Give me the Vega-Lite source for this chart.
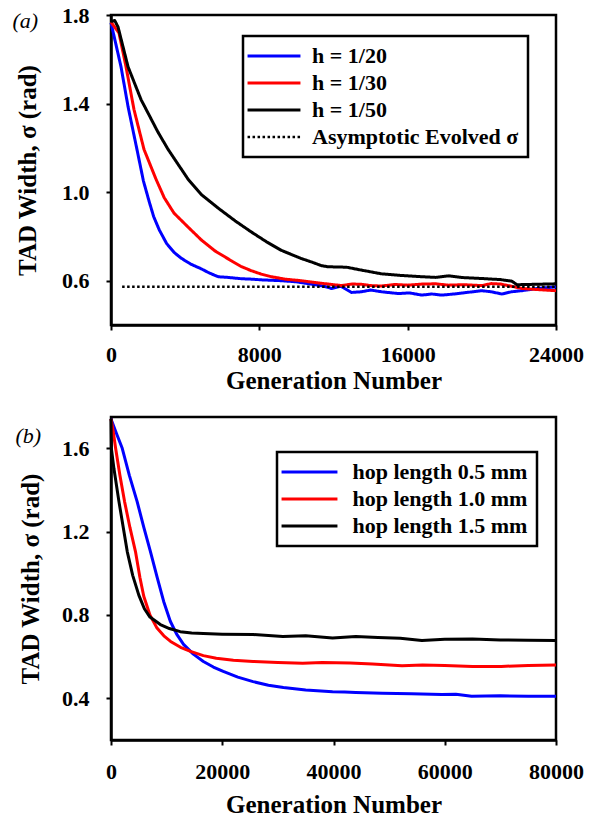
{
  "$schema": "https://vega.github.io/schema/vega-lite/v6.json",
  "background": "white",
  "padding": {"left": 11, "top": 2, "right": 12, "bottom": 4},
  "spacing": 20,
  "config": {
    "font": "Liberation Serif",
    "view": {"stroke": "black", "strokeWidth": 2.5},
    "axis": {
      "grid": false, "domainColor": "black", "domainWidth": 2.5,
      "tickColor": "black", "tickWidth": 2, "tickSize": 5,
      "labelFont": "Liberation Serif", "labelFontWeight": "bold", "labelFontSize": 22, "labelColor": "black",
      "titleFont": "Liberation Serif", "titleFontWeight": "bold", "titleFontSize": 25, "titleColor": "black",
      "labelFlush": false, "labelOverlap": false
    },
    "legend": {
      "strokeColor": "black", "strokeWidth": 2.5, "padding": 9,
      "labelFont": "Liberation Serif", "labelFontWeight": "bold", "labelFontSize": 22, "labelColor": "black",
      "labelLimit": 500, "rowPadding": 5, "symbolStrokeWidth": 3,
      "symbolType": "M-5,0H5", "title": null, "orient": "none", "fillColor": "white"
    },
    "title": {"font": "Liberation Serif", "fontStyle": "italic", "fontWeight": "normal", "fontSize": 22, "color": "black"}
  },
  "resolve": {
    "scale": {"color": "independent", "strokeDash": "independent", "strokeWidth": "independent", "x": "independent", "y": "independent"},
    "legend": {"color": "independent", "strokeDash": "independent", "strokeWidth": "independent"}
  },
  "vconcat": [
    {
      "width": 445, "height": 310,
      "title": {"text": "(a)", "anchor": "start", "frame": "bounds", "offset": 0, "dy": 29, "dx": -3},
      "data": {"values": [
        {"s":"h = 1/20","g":0,"w":1.765},{"s":"h = 1/20","g":540,"w":1.566},{"s":"h = 1/20","g":920,"w":1.386},{"s":"h = 1/20","g":1400,"w":1.193},{"s":"h = 1/20","g":1750,"w":1.05},{"s":"h = 1/20","g":2050,"w":0.96},{"s":"h = 1/20","g":2300,"w":0.89},{"s":"h = 1/20","g":2600,"w":0.83},{"s":"h = 1/20","g":3000,"w":0.768},{"s":"h = 1/20","g":3400,"w":0.728},{"s":"h = 1/20","g":3780,"w":0.702},{"s":"h = 1/20","g":4300,"w":0.675},{"s":"h = 1/20","g":4860,"w":0.654},{"s":"h = 1/20","g":5300,"w":0.635},{"s":"h = 1/20","g":5780,"w":0.618},{"s":"h = 1/20","g":6300,"w":0.615},{"s":"h = 1/20","g":7030,"w":0.609},{"s":"h = 1/20","g":7600,"w":0.607},{"s":"h = 1/20","g":8100,"w":0.604},{"s":"h = 1/20","g":9190,"w":0.6},{"s":"h = 1/20","g":10000,"w":0.595},{"s":"h = 1/20","g":11000,"w":0.582},{"s":"h = 1/20","g":11500,"w":0.575},{"s":"h = 1/20","g":11890,"w":0.565},{"s":"h = 1/20","g":12400,"w":0.575},{"s":"h = 1/20","g":12970,"w":0.547},{"s":"h = 1/20","g":13500,"w":0.55},{"s":"h = 1/20","g":14000,"w":0.558},{"s":"h = 1/20","g":14590,"w":0.55},{"s":"h = 1/20","g":15500,"w":0.542},{"s":"h = 1/20","g":16100,"w":0.545},{"s":"h = 1/20","g":16760,"w":0.535},{"s":"h = 1/20","g":17300,"w":0.54},{"s":"h = 1/20","g":17840,"w":0.535},{"s":"h = 1/20","g":18500,"w":0.54},{"s":"h = 1/20","g":19000,"w":0.545},{"s":"h = 1/20","g":20000,"w":0.555},{"s":"h = 1/20","g":20500,"w":0.55},{"s":"h = 1/20","g":21080,"w":0.54},{"s":"h = 1/20","g":21600,"w":0.55},{"s":"h = 1/20","g":22160,"w":0.555},{"s":"h = 1/20","g":23000,"w":0.565},{"s":"h = 1/20","g":24000,"w":0.572},
        {"s":"h = 1/30","g":0,"w":1.768},{"s":"h = 1/30","g":430,"w":1.719},{"s":"h = 1/30","g":810,"w":1.566},{"s":"h = 1/30","g":1240,"w":1.373},{"s":"h = 1/30","g":1780,"w":1.193},{"s":"h = 1/30","g":2430,"w":1.058},{"s":"h = 1/30","g":2870,"w":0.975},{"s":"h = 1/30","g":3400,"w":0.905},{"s":"h = 1/30","g":4160,"w":0.842},{"s":"h = 1/30","g":4860,"w":0.785},{"s":"h = 1/30","g":5600,"w":0.735},{"s":"h = 1/30","g":6490,"w":0.69},{"s":"h = 1/30","g":7000,"w":0.665},{"s":"h = 1/30","g":7570,"w":0.645},{"s":"h = 1/30","g":8100,"w":0.63},{"s":"h = 1/30","g":8650,"w":0.618},{"s":"h = 1/30","g":9400,"w":0.607},{"s":"h = 1/30","g":10270,"w":0.6},{"s":"h = 1/30","g":11000,"w":0.592},{"s":"h = 1/30","g":11700,"w":0.585},{"s":"h = 1/30","g":12430,"w":0.578},{"s":"h = 1/30","g":13000,"w":0.585},{"s":"h = 1/30","g":13500,"w":0.584},{"s":"h = 1/30","g":14000,"w":0.578},{"s":"h = 1/30","g":14590,"w":0.576},{"s":"h = 1/30","g":15300,"w":0.583},{"s":"h = 1/30","g":16000,"w":0.58},{"s":"h = 1/30","g":16800,"w":0.585},{"s":"h = 1/30","g":17500,"w":0.586},{"s":"h = 1/30","g":18200,"w":0.58},{"s":"h = 1/30","g":19000,"w":0.582},{"s":"h = 1/30","g":20000,"w":0.578},{"s":"h = 1/30","g":20500,"w":0.587},{"s":"h = 1/30","g":21000,"w":0.585},{"s":"h = 1/30","g":21600,"w":0.575},{"s":"h = 1/30","g":22160,"w":0.565},{"s":"h = 1/30","g":23000,"w":0.56},{"s":"h = 1/30","g":24000,"w":0.555},
        {"s":"h = 1/50","g":0,"w":1.77},{"s":"h = 1/50","g":200,"w":1.775},{"s":"h = 1/50","g":380,"w":1.746},{"s":"h = 1/50","g":920,"w":1.566},{"s":"h = 1/50","g":1620,"w":1.418},{"s":"h = 1/50","g":2540,"w":1.27},{"s":"h = 1/50","g":3080,"w":1.193},{"s":"h = 1/50","g":4160,"w":1.058},{"s":"h = 1/50","g":4860,"w":0.99},{"s":"h = 1/50","g":5780,"w":0.928},{"s":"h = 1/50","g":6700,"w":0.87},{"s":"h = 1/50","g":7570,"w":0.82},{"s":"h = 1/50","g":8400,"w":0.775},{"s":"h = 1/50","g":9190,"w":0.737},{"s":"h = 1/50","g":10270,"w":0.7},{"s":"h = 1/50","g":10800,"w":0.685},{"s":"h = 1/50","g":11350,"w":0.668},{"s":"h = 1/50","g":11700,"w":0.663},{"s":"h = 1/50","g":12700,"w":0.661},{"s":"h = 1/50","g":13500,"w":0.648},{"s":"h = 1/50","g":14590,"w":0.631},{"s":"h = 1/50","g":15600,"w":0.624},{"s":"h = 1/50","g":16760,"w":0.618},{"s":"h = 1/50","g":17500,"w":0.615},{"s":"h = 1/50","g":18220,"w":0.622},{"s":"h = 1/50","g":19000,"w":0.614},{"s":"h = 1/50","g":20000,"w":0.61},{"s":"h = 1/50","g":21000,"w":0.605},{"s":"h = 1/50","g":21620,"w":0.598},{"s":"h = 1/50","g":21890,"w":0.582},{"s":"h = 1/50","g":23000,"w":0.584},{"s":"h = 1/50","g":24000,"w":0.586},
        {"s":"Asymptotic Evolved σ","g":600,"w":0.573},{"s":"Asymptotic Evolved σ","g":24000,"w":0.573}
      ]},
      "mark": {"type": "line", "strokeJoin": "round", "strokeCap": "butt"},
      "encoding": {
        "x": {"field": "g", "type": "quantitative", "scale": {"domain": [0, 24000], "nice": false},
              "axis": {"values": [0, 8000, 16000, 24000], "format": "d", "title": "Generation Number", "labelPadding": 14, "titlePadding": 3}},
        "y": {"field": "w", "type": "quantitative", "scale": {"domain": [0.4, 1.8], "nice": false, "zero": false},
              "axis": {"values": [0.6, 1.0, 1.4, 1.8], "format": ".1f", "title": "TAD Width, σ (rad)", "labelPadding": 17, "titlePadding": 21}},
        "color": {"field": "s", "type": "nominal",
                  "scale": {"domain": ["h = 1/20", "h = 1/30", "h = 1/50", "Asymptotic Evolved σ"], "range": ["#0000ff", "#ff0000", "#000000", "#000000"]},
                  "legend": {"legendX": 132, "legendY": 21, "symbolSize": 112, "symbolOffset": 11, "labelOffset": 27}},
        "strokeDash": {"field": "s", "type": "nominal",
                  "scale": {"domain": ["h = 1/20", "h = 1/30", "h = 1/50", "Asymptotic Evolved σ"], "range": [[1, 0], [1, 0], [1, 0], [2.5, 2.5]]},
                  "legend": {"legendX": 132, "legendY": 21, "symbolSize": 112, "symbolOffset": 11, "labelOffset": 27}},
        "strokeWidth": {"field": "s", "type": "nominal",
                  "scale": {"type": "ordinal", "domain": ["h = 1/20", "h = 1/30", "h = 1/50", "Asymptotic Evolved σ"], "range": [3, 3, 3, 2.5]},
                  "legend": {"legendX": 132, "legendY": 21, "symbolSize": 112, "symbolOffset": 11, "labelOffset": 27}}
      }
    },
    {
      "width": 445, "height": 323,
      "title": {"text": "(b)", "anchor": "start", "frame": "bounds", "offset": 0, "dy": 31, "dx": -3},
      "data": {"values": [
        {"s":"hop length 0.5 mm","g":0,"w":1.74},{"s":"hop length 0.5 mm","g":1000,"w":1.67},{"s":"hop length 0.5 mm","g":2020,"w":1.6},{"s":"hop length 0.5 mm","g":3300,"w":1.47},{"s":"hop length 0.5 mm","g":4700,"w":1.344},{"s":"hop length 0.5 mm","g":5900,"w":1.22},{"s":"hop length 0.5 mm","g":7090,"w":1.104},{"s":"hop length 0.5 mm","g":8300,"w":0.98},{"s":"hop length 0.5 mm","g":9470,"w":0.865},{"s":"hop length 0.5 mm","g":10660,"w":0.77},{"s":"hop length 0.5 mm","g":11800,"w":0.708},{"s":"hop length 0.5 mm","g":13040,"w":0.659},{"s":"hop length 0.5 mm","g":14800,"w":0.612},{"s":"hop length 0.5 mm","g":16610,"w":0.577},{"s":"hop length 0.5 mm","g":18400,"w":0.55},{"s":"hop length 0.5 mm","g":20180,"w":0.529},{"s":"hop length 0.5 mm","g":22800,"w":0.502},{"s":"hop length 0.5 mm","g":25540,"w":0.48},{"s":"hop length 0.5 mm","g":28300,"w":0.463},{"s":"hop length 0.5 mm","g":31000,"w":0.452},{"s":"hop length 0.5 mm","g":35000,"w":0.44},{"s":"hop length 0.5 mm","g":39830,"w":0.432},{"s":"hop length 0.5 mm","g":42000,"w":0.43},{"s":"hop length 0.5 mm","g":44000,"w":0.428},{"s":"hop length 0.5 mm","g":48760,"w":0.424},{"s":"hop length 0.5 mm","g":54000,"w":0.422},{"s":"hop length 0.5 mm","g":59470,"w":0.418},{"s":"hop length 0.5 mm","g":62000,"w":0.42},{"s":"hop length 0.5 mm","g":64830,"w":0.41},{"s":"hop length 0.5 mm","g":70000,"w":0.412},{"s":"hop length 0.5 mm","g":75000,"w":0.41},{"s":"hop length 0.5 mm","g":80000,"w":0.41},
        {"s":"hop length 1.0 mm","g":0,"w":1.74},{"s":"hop length 1.0 mm","g":400,"w":1.68},{"s":"hop length 1.0 mm","g":830,"w":1.6},{"s":"hop length 1.0 mm","g":1600,"w":1.47},{"s":"hop length 1.0 mm","g":2440,"w":1.344},{"s":"hop length 1.0 mm","g":3400,"w":1.22},{"s":"hop length 1.0 mm","g":4400,"w":1.104},{"s":"hop length 1.0 mm","g":5200,"w":0.98},{"s":"hop length 1.0 mm","g":5890,"w":0.89},{"s":"hop length 1.0 mm","g":7000,"w":0.8},{"s":"hop length 1.0 mm","g":8270,"w":0.737},{"s":"hop length 1.0 mm","g":9500,"w":0.7},{"s":"hop length 1.0 mm","g":10710,"w":0.673},{"s":"hop length 1.0 mm","g":12500,"w":0.645},{"s":"hop length 1.0 mm","g":14290,"w":0.625},{"s":"hop length 1.0 mm","g":16600,"w":0.605},{"s":"hop length 1.0 mm","g":18930,"w":0.592},{"s":"hop length 1.0 mm","g":22000,"w":0.583},{"s":"hop length 1.0 mm","g":25540,"w":0.577},{"s":"hop length 1.0 mm","g":30000,"w":0.572},{"s":"hop length 1.0 mm","g":34460,"w":0.568},{"s":"hop length 1.0 mm","g":38000,"w":0.572},{"s":"hop length 1.0 mm","g":43000,"w":0.57},{"s":"hop length 1.0 mm","g":47000,"w":0.565},{"s":"hop length 1.0 mm","g":52320,"w":0.556},{"s":"hop length 1.0 mm","g":56000,"w":0.56},{"s":"hop length 1.0 mm","g":60000,"w":0.558},{"s":"hop length 1.0 mm","g":65000,"w":0.553},{"s":"hop length 1.0 mm","g":70180,"w":0.553},{"s":"hop length 1.0 mm","g":75000,"w":0.558},{"s":"hop length 1.0 mm","g":80000,"w":0.56},
        {"s":"hop length 1.5 mm","g":0,"w":1.74},{"s":"hop length 1.5 mm","g":60,"w":1.6},{"s":"hop length 1.5 mm","g":540,"w":1.5},{"s":"hop length 1.5 mm","g":1430,"w":1.344},{"s":"hop length 1.5 mm","g":2920,"w":1.104},{"s":"hop length 1.5 mm","g":3900,"w":0.99},{"s":"hop length 1.5 mm","g":5000,"w":0.895},{"s":"hop length 1.5 mm","g":6000,"w":0.83},{"s":"hop length 1.5 mm","g":7000,"w":0.79},{"s":"hop length 1.5 mm","g":8870,"w":0.754},{"s":"hop length 1.5 mm","g":10500,"w":0.735},{"s":"hop length 1.5 mm","g":12450,"w":0.72},{"s":"hop length 1.5 mm","g":14500,"w":0.714},{"s":"hop length 1.5 mm","g":16610,"w":0.711},{"s":"hop length 1.5 mm","g":20000,"w":0.708},{"s":"hop length 1.5 mm","g":25540,"w":0.706},{"s":"hop length 1.5 mm","g":30900,"w":0.697},{"s":"hop length 1.5 mm","g":35000,"w":0.7},{"s":"hop length 1.5 mm","g":39830,"w":0.69},{"s":"hop length 1.5 mm","g":44000,"w":0.697},{"s":"hop length 1.5 mm","g":48000,"w":0.692},{"s":"hop length 1.5 mm","g":52000,"w":0.688},{"s":"hop length 1.5 mm","g":55890,"w":0.678},{"s":"hop length 1.5 mm","g":60000,"w":0.684},{"s":"hop length 1.5 mm","g":65000,"w":0.685},{"s":"hop length 1.5 mm","g":70000,"w":0.68},{"s":"hop length 1.5 mm","g":75000,"w":0.679},{"s":"hop length 1.5 mm","g":80000,"w":0.678}
      ]},
      "mark": {"type": "line", "strokeJoin": "round", "strokeWidth": 3},
      "encoding": {
        "x": {"field": "g", "type": "quantitative", "scale": {"domain": [0, 80000], "nice": false},
              "axis": {"values": [0, 20000, 40000, 60000, 80000], "format": "d", "title": "Generation Number", "labelPadding": 16, "titlePadding": 10}},
        "y": {"field": "w", "type": "quantitative", "scale": {"domain": [0.2, 1.75], "nice": false, "zero": false},
              "axis": {"values": [0.4, 0.8, 1.2, 1.6], "format": ".1f", "title": "TAD Width, σ (rad)", "labelPadding": 17, "titlePadding": 18}},
        "color": {"field": "s", "type": "nominal",
                  "scale": {"domain": ["hop length 0.5 mm", "hop length 1.0 mm", "hop length 1.5 mm"], "range": ["#0000ff", "#ff0000", "#000000"]},
                  "legend": {"legendX": 166, "legendY": 35, "symbolSize": 125, "symbolOffset": 12.5, "labelOffset": 32}}
      }
    }
  ]
}
